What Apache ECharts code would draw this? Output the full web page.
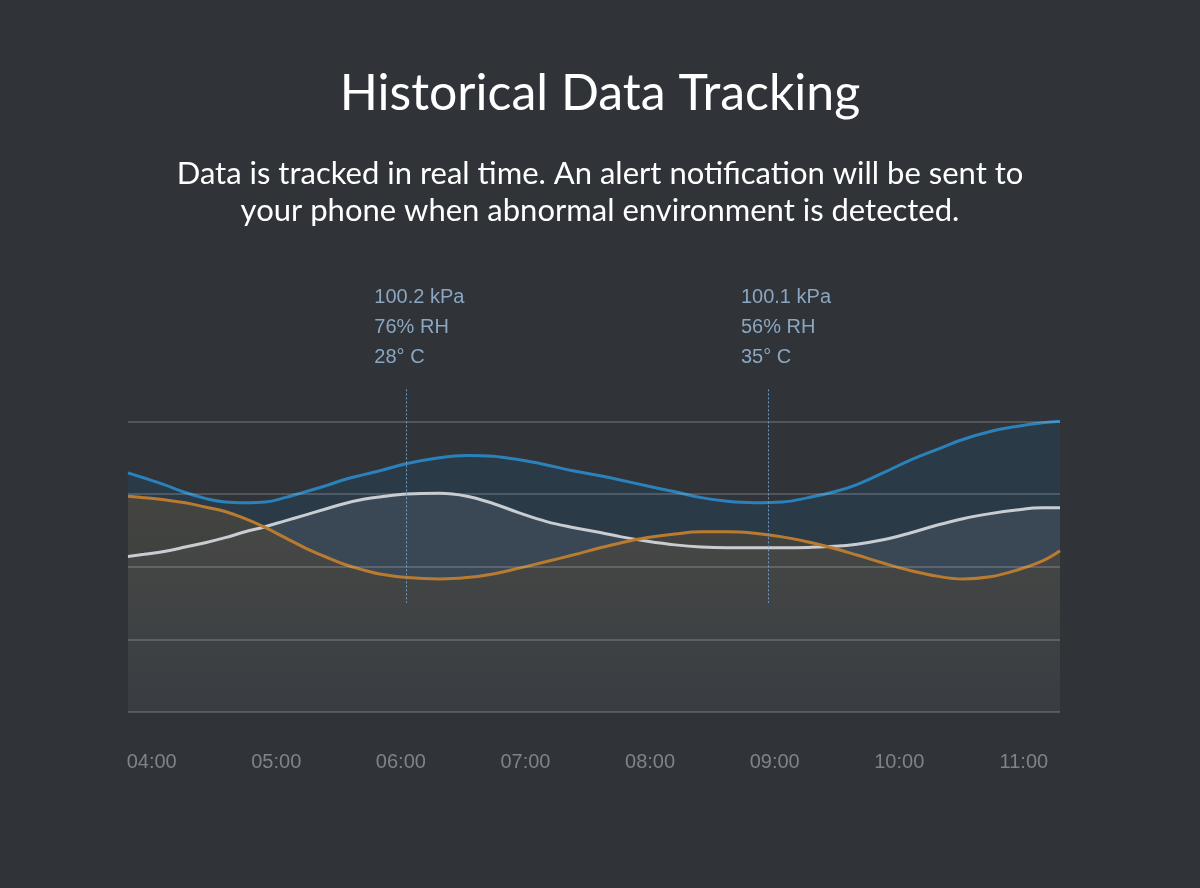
<!DOCTYPE html>
<html>
<head>
<meta charset="utf-8">
<script src="https://cdn.jsdelivr.net/npm/echarts@6/dist/echarts.min.js"></script>
<style>
html,body{margin:0;padding:0;background:#303338;}
#c{width:1200px;height:888px;}
</style>
</head>
<body>
<div id="c"></div>
<script>
// x: hours after 04:00 ; y: relative level (grid units)
const hours = [-0.19, -0.06, 0.10, 0.27, 0.43, 0.59, 0.75, 0.91, 1.07, 1.23, 1.39, 1.55, 1.71, 1.83, 2.05, 2.31, 2.53, 2.74, 2.95, 3.17, 3.38, 3.60, 3.77, 3.98, 4.20, 4.41, 4.62, 4.84, 5.06, 5.27, 5.48, 5.66, 5.87, 6.08, 6.30, 6.51, 6.73, 6.94, 7.15, 7.29];
const pressure = [3.29, 3.22, 3.13, 3.02, 2.94, 2.89, 2.88, 2.89, 2.95, 3.03, 3.11, 3.20, 3.27, 3.32, 3.42, 3.50, 3.53, 3.52, 3.47, 3.40, 3.32, 3.25, 3.19, 3.11, 3.03, 2.95, 2.90, 2.88, 2.89, 2.95, 3.03, 3.13, 3.29, 3.46, 3.61, 3.75, 3.86, 3.93, 3.98, 4.00];
const humidity = [2.14, 2.17, 2.21, 2.27, 2.33, 2.40, 2.48, 2.55, 2.63, 2.71, 2.79, 2.87, 2.93, 2.96, 3.00, 3.01, 2.97, 2.87, 2.74, 2.62, 2.54, 2.47, 2.41, 2.35, 2.30, 2.27, 2.26, 2.26, 2.26, 2.265, 2.28, 2.31, 2.37, 2.46, 2.57, 2.66, 2.73, 2.78, 2.81, 2.81];
const temperature = [2.97, 2.95, 2.92, 2.88, 2.82, 2.76, 2.66, 2.54, 2.40, 2.26, 2.14, 2.03, 1.95, 1.90, 1.85, 1.83, 1.85, 1.90, 1.98, 2.07, 2.16, 2.26, 2.33, 2.40, 2.45, 2.48, 2.48, 2.46, 2.41, 2.34, 2.25, 2.16, 2.05, 1.95, 1.87, 1.83, 1.86, 1.95, 2.08, 2.22];
const tickHours = [0, 1, 2, 3, 4, 5, 6, 7];
const tickLabels = ['04:00', '05:00', '06:00', '07:00', '08:00', '09:00', '10:00', '11:00'];
const markerHours = [2.04, 4.95];
const markerTop = 4.44;
const markerBottom = 1.5;
const markerTexts = [
  ['100.2 kPa', '76% RH', '28° C'],
  ['100.1 kPa', '56% RH', '35° C']
];
const titleText = 'Historical Data Tracking';
const subLines = [
  'Data is tracked in real time. An alert notification will be sent to',
  'your phone when abnormal environment is detected.'
];

const labelShift = [-31, -27]; // style: horizontal offset of each annotation block

const pair = (xs, ys) => xs.map((x, i) => [x, ys[i]]);

const chart = echarts.init(document.getElementById('c'));
chart.setOption({
  backgroundColor: '#303338',
  animation: false,
  title: [
    { text: titleText, left: 'center', top: 64,
      textStyle: { color: '#ffffff', fontFamily: 'Lato', fontWeight: 'normal', fontSize: 50 } },
    { text: subLines[0], left: 'center', top: 153,
      textStyle: { color: '#ffffff', fontFamily: 'Lato', fontWeight: 'normal', fontSize: 31 } },
    { text: subLines[1], left: 'center', top: 190,
      textStyle: { color: '#ffffff', fontFamily: 'Lato', fontWeight: 'normal', fontSize: 31 } }
  ],
  grid: { left: 128, right: 140, top: 385, bottom: 176 },
  xAxis: {
    type: 'value', min: -0.19, max: 7.29,
    axisLine: { show: false }, axisTick: { show: false }, splitLine: { show: false },
    axisLabel: {
      customValues: tickHours,
      formatter: v => tickLabels[tickHours.indexOf(Math.round(v))] || '',
      color: '#7f8388', fontSize: 20, fontFamily: 'Liberation Sans', margin: 40
    }
  },
  yAxis: {
    type: 'value', min: 0, max: 4.5, interval: 1, z: 5,
    axisLine: { show: false }, axisTick: { show: false }, axisLabel: { show: false },
    splitLine: { showMaxLine: false, lineStyle: { color: 'rgba(200,205,210,0.30)', width: 1.5 } }
  },
  series: [
    {
      type: 'line', data: pair(hours, pressure), smooth: 0.4, symbol: 'none', clip: false,
      lineStyle: { color: '#2b82bb', width: 3 },
      areaStyle: { color: 'rgba(34,74,104,0.45)' },
      markLine: {
        silent: true, symbol: 'none',
        lineStyle: { color: '#6a9cc6', type: [2, 2], width: 1 },
        label: { show: false },
        data: markerHours.map(h => [{ coord: [h, markerTop] }, { coord: [h, markerBottom] }])
      },
      markPoint: {
        symbol: 'circle', symbolSize: 1, itemStyle: { color: 'rgba(0,0,0,0)' },
        data: markerHours.map((h, i) => ({
          coord: [h, markerTop],
          label: {
            show: true, position: [labelShift[i], -106], align: 'left', verticalAlign: 'top',
            formatter: markerTexts[i].join('\n'),
            color: '#8ba6c0', fontSize: 20, lineHeight: 30, fontFamily: 'Liberation Sans'
          }
        }))
      }
    },
    {
      type: 'line', data: pair(hours, humidity), smooth: 0.4, symbol: 'none',
      lineStyle: { color: '#c9cdd2', width: 3 },
      areaStyle: { color: 'rgba(100,114,128,0.38)' }
    },
    {
      type: 'line', data: pair(hours, temperature), smooth: 0.4, symbol: 'none',
      lineStyle: { color: '#b87b30', width: 3 },
      areaStyle: {
        color: new echarts.graphic.LinearGradient(0, 0, 0, 1, [
          { offset: 0, color: 'rgba(80,74,62,0.96)' },
          { offset: 1, color: 'rgba(56,56,57,0.97)' }
        ])
      }
    }
  ]
});
</script>
</body>
</html>
